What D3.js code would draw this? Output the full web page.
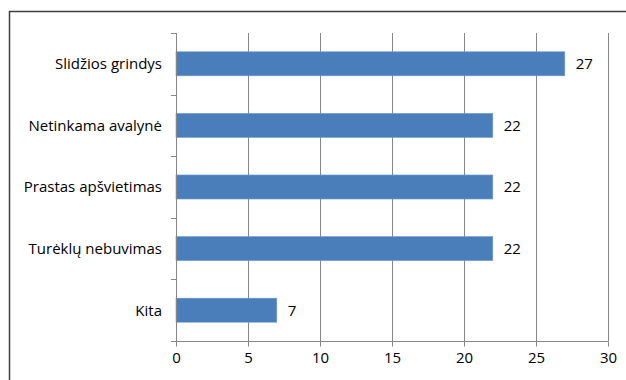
<!DOCTYPE html>
<html>
<head>
<meta charset="utf-8">
<script src="https://cdn.jsdelivr.net/npm/d3@7"></script>
<style>
  html, body { margin: 0; padding: 0; background: #fff; }
  svg { display: block; }
  text { font-family: "Open Sans", Lato, sans-serif; fill: #000; }
</style>
</head>
<body>
<svg id="chart" width="626" height="380"></svg>
<script>
// Falls by cause
const categories = ["Slidžios grindys", "Netinkama avalynė", "Prastas apšvietimas", "Turėklų nebuvimas", "Kita"];
const values = [27, 22, 22, 22, 7];
const xTicks = [0, 5, 10, 15, 20, 25, 30];

const svg = d3.select("#chart");
const margin = { left: 176, top: 33 };
const axisY = 341;
const fs = 15;

// outer frame
svg.append("rect")
  .attr("x", 9.5).attr("y", 11.5)
  .attr("width", 640).attr("height", 400)
  .attr("fill", "none").attr("stroke", "#3f3f3f").attr("stroke-width", 1.5);

const x = d3.scaleLinear().domain([0, 30]).range([margin.left, 608]);
const y = d3.scaleBand().domain(categories).range([margin.top, axisY]).paddingInner(0.61).paddingOuter(0.305);

// vertical gridlines
svg.append("g").selectAll("line").data(xTicks.slice(1)).join("line")
  .attr("x1", d => Math.round(x(d)) + 0.5).attr("x2", d => Math.round(x(d)) + 0.5)
  .attr("y1", margin.top).attr("y2", axisY)
  .attr("stroke", "#868686").attr("stroke-width", 1);

// bars
svg.append("g").selectAll("rect").data(values).join("rect")
  .attr("x", x(0)).attr("y", (d, i) => y(categories[i]))
  .attr("width", d => x(d) - x(0)).attr("height", y.bandwidth())
  .attr("fill", "#4a7ebb").attr("stroke", "#6f9ad0").attr("stroke-width", 0.6);

// value labels
svg.append("g").selectAll("text").data(values).join("text")
  .attr("x", d => x(d) + 11).attr("y", (d, i) => y(categories[i]) + y.bandwidth() / 2)
  .attr("dy", "0.36em").attr("font-size", fs).text(d => d);

// bottom axis
const xAxis = d3.axisBottom(x).tickValues(xTicks).tickSize(5).tickSizeOuter(0).tickPadding(6);
const gx = svg.append("g").attr("transform", `translate(0,${axisY + 0.5})`).call(xAxis);
gx.select(".domain").attr("stroke", "#868686").attr("d", `M${margin.left - 5},0H${x(30) + 0.5}`);
gx.selectAll(".tick line").attr("stroke", "#868686");
gx.selectAll(".tick text").attr("font-size", fs).attr("font-family", "'Open Sans', sans-serif").attr("fill", "#000");

// left axis with ticks on category boundaries
const gy = svg.append("g");
gy.append("line")
  .attr("x1", margin.left + 0.5).attr("x2", margin.left + 0.5)
  .attr("y1", margin.top).attr("y2", axisY)
  .attr("stroke", "#868686");
const step = (axisY - margin.top) / categories.length;
gy.selectAll("line.tk").data(d3.range(categories.length)).join("line").attr("class", "tk")
  .attr("x1", margin.left - 5).attr("x2", margin.left)
  .attr("y1", i => Math.round(margin.top + i * step) + 0.5)
  .attr("y2", i => Math.round(margin.top + i * step) + 0.5)
  .attr("stroke", "#868686");
gy.selectAll("text").data(categories).join("text")
  .attr("x", 162).attr("y", d => y(d) + y.bandwidth() / 2)
  .attr("dy", "0.36em").attr("text-anchor", "end").attr("font-size", fs)
  .text(d => d);
</script>
</body>
</html>
